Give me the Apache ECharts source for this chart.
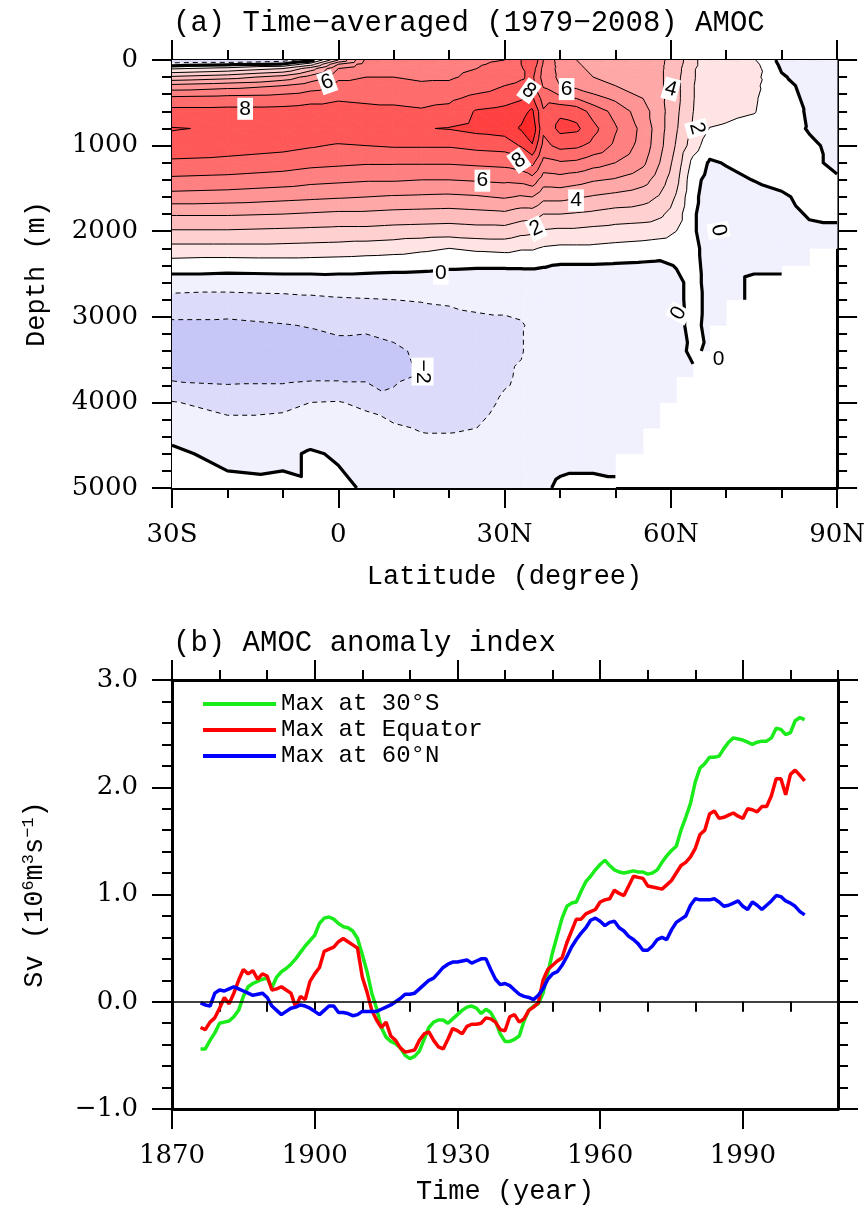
<!DOCTYPE html>
<html>
<head>
<meta charset="utf-8">
<script src="https://cdn.jsdelivr.net/npm/echarts@6.0.0/dist/echarts.min.js"></script>
<style>
  html, body { margin: 0; padding: 0; background: #fff; }
  #chart { width: 868px; height: 1215px; }
</style>
</head>
<body>
<div id="chart"></div>
<script>
// ---- panel (a): time-mean AMOC streamfunction (Sv) ----
const LAT = [-30, -20, -10, -5, 0, 5, 10, 15, 20, 25, 30, 33, 35, 37, 40, 43, 46, 50, 55, 58, 61, 64, 67, 70, 75, 80, 85, 90];
const DEPTH = [0, 50, 100, 200, 300, 450, 600, 800, 1000, 1200, 1400, 1600, 1800, 2000, 2200, 2400, 2600, 2800, 3100, 3400, 3700, 4000, 4300, 4600, 5000];
// one row per latitude, values at the DEPTH levels (null = sea floor)
const AMOC = [
  [-2, -0.5, 0.9, 3.2, 5.3, 7.3, 8.3, 9.05, 8.7, 7.8, 6.8, 5.6, 4.1, 2.9, 1.7, 0.5, -0.5, -1.3, -2.2, -2.6, -2.2, -0.95, -0.4, 0.2, 0.3],
  [-2, -0.2, 1.3, 3.6, 5.6, 7.4, 8.3, 8.9, 8.5, 7.7, 6.7, 5.5, 4.1, 2.9, 1.7, 0.4, -0.5, -1.4, -2.2, -2.6, -2.3, -1.3, -0.7, -0.3, 0.3],
  [-1.5, 0.1, 2.0, 4.4, 6.0, 7.5, 8.3, 8.9, 8.3, 7.5, 6.5, 5.3, 4.0, 2.8, 1.7, 0.45, -0.45, -1.3, -2.05, -2.5, -2.3, -1.2, -0.7, -0.2, 0.2],
  [-0.5, 1.5, 3.5, 5.4, 6.5, 7.7, 8.4, 8.9, 8.1, 7.3, 6.3, 5.2, 3.9, 2.75, 1.65, 0.45, -0.45, -1.2, -1.95, -2.4, -2.2, -1.0, -0.5, 0.1, 0.1],
  [3, 5, 6, 6.8, 7.3, 7.9, 8.4, 8.8, 7.9, 7.2, 6.2, 5.1, 3.8, 2.7, 1.6, 0.4, -0.4, -1.1, -1.8, -2.3, -2.2, -0.95, -0.5, -0.1, 0.2],
  [6.2, 6.5, 6.7, 7.0, 7.3, 7.8, 8.3, 8.8, 8.0, 7.1, 6.1, 5.0, 3.8, 2.7, 1.5, 0.35, -0.4, -1.05, -1.85, -2.3, -2.2, -1.2, -0.6, -0.3, -0.1],
  [6.6, 6.7, 6.8, 7.0, 7.2, 7.8, 8.2, 8.9, 8.1, 7.1, 6.1, 4.9, 3.7, 2.6, 1.4, 0.3, -0.45, -1.0, -1.7, -2.15, -2.1, -1.85, -0.8, -0.4, -0.2],
  [6.7, 6.8, 6.8, 6.9, 7.1, 7.7, 8.1, 8.95, 8.1, 7.1, 6.0, 4.85, 3.65, 2.55, 1.2, 0.25, -0.45, -0.95, -1.45, -1.85, -1.95, -1.6, -1.1, -0.5, -0.2],
  [6.6, 6.7, 6.8, 6.9, 7.15, 7.8, 8.3, 9.05, 8.1, 7.1, 6.0, 4.8, 3.6, 2.5, 1.0, 0.15, -0.5, -0.9, -1.3, -1.6, -1.65, -1.5, -1.1, -0.6, -0.2],
  [6.8, 6.9, 7.0, 7.2, 7.5, 8.3, 9.1, 9.3, 8.3, 7.2, 6.1, 4.9, 3.7, 2.6, 1.2, 0.1, -0.5, -0.85, -1.15, -1.35, -1.4, -1.25, -1.0, -0.55, -0.2],
  [7.0, 7.2, 7.4, 7.6, 8.0, 8.6, 9.3, 9.5, 8.4, 7.3, 6.2, 5.1, 3.8, 2.6, 1.3, 0.1, -0.5, -0.85, -1.1, -1.15, -1.1, -0.9, -0.7, -0.5, -0.2],
  [8.0, 8.0, 7.9, 7.9, 8.2, 8.9, 9.6, 10.1, 9.1, 7.6, 6.3, 4.9, 3.5, 2.3, 1.1, 0.1, -0.45, -0.8, -1.05, -1.05, -0.9, -0.8, -0.6, -0.4, -0.2],
  [9.0, 8.8, 8.5, 8.2, 8.3, 9.2, 10.2, 10.8, 9.9, 8.3, 6.6, 5.0, 3.5, 2.2, 1.1, 0.1, -0.4, -0.6, -0.9, -0.8, -0.7, -0.6, -0.5, -0.3, -0.1],
  [7.0, 6.9, 6.7, 6.6, 6.9, 7.6, 8.1, 8.2, 7.7, 6.7, 5.5, 4.3, 3.0, 1.9, 0.9, 0.05, -0.4, -0.5, -0.6, -0.6, -0.5, -0.5, -0.4, -0.3, -0.1],
  [5.5, 5.6, 5.7, 5.8, 6.0, 7.3, 8.8, 9.3, 8.3, 6.9, 5.6, 4.3, 3.0, 1.8, 0.8, -0.05, -0.4, -0.5, -0.55, -0.55, -0.5, -0.45, -0.4, -0.2, 0.1],
  [5.0, 5.1, 5.2, 5.4, 5.7, 7.0, 8.6, 9.2, 8.2, 6.8, 5.4, 4.1, 2.9, 1.8, 0.8, -0.05, -0.4, -0.5, -0.5, -0.5, -0.5, -0.45, -0.4, -0.2, 0.15],
  [4.6, 4.7, 4.8, 5.0, 5.3, 6.4, 7.6, 8.3, 7.7, 6.4, 5.1, 3.9, 2.8, 1.7, 0.8, -0.05, -0.35, -0.45, -0.5, -0.5, -0.45, -0.4, -0.35, -0.2, 0.15],
  [4.3, 4.4, 4.5, 4.7, 5.0, 5.8, 6.7, 7.1, 6.8, 6.0, 4.9, 3.7, 2.6, 1.6, 0.7, -0.1, -0.35, -0.4, -0.45, -0.45, -0.4, -0.35, -0.3, -0.2, 0.1],
  [4.1, 4.1, 4.2, 4.3, 4.5, 5.0, 5.4, 5.7, 5.6, 5.2, 4.4, 3.4, 2.5, 1.5, 0.6, -0.15, -0.3, -0.35, -0.35, -0.35, -0.35, -0.3, -0.2, -0.1, null],
  [4.2, 4.2, 4.2, 4.2, 4.2, 4.3, 4.4, 4.4, 4.3, 4.0, 3.5, 2.9, 2.2, 1.4, 0.5, -0.2, -0.3, -0.3, -0.3, -0.3, -0.25, -0.2, -0.15, null, null],
  [3.6, 3.5, 3.4, 3.3, 3.3, 3.3, 3.2, 3.1, 2.9, 2.6, 2.3, 1.9, 1.5, 1.0, 0.4, 0.05, -0.2, -0.2, -0.2, -0.15, -0.2, -0.2, null, null, null],
  [2.2, 2.2, 2.1, 2.1, 2.05, 2.05, 2.02, 1.9, 1.5, 0.7, 0.3, 0.2, 0.1, 0.1, 0.2, 0.25, 0.25, 0.25, 0.2, 0.1, -0.1, null, null, null, null],
  [1.5, 1.5, 1.5, 1.4, 1.4, 1.4, 1.3, 0.98, 0.4, -0.1, -0.3, -0.4, -0.4, -0.4, -0.3, -0.3, -0.25, -0.2, -0.2, -0.1, null, null, null, null, null],
  [1.3, 1.4, 1.4, 1.4, 1.3, 1.3, 1.2, 0.9, 0.4, 0.05, -0.2, -0.4, -0.5, -0.5, -0.4, -0.2, -0.2, -0.2, -0.1, null, null, null, null, null, null],
  [1.1, 1.3, 1.4, 1.3, 1.2, 1.1, 1.05, 0.7, 0.4, 0.2, 0.02, -0.3, -0.4, -0.4, -0.3, -0.1, 0.1, 0.1, null, null, null, null, null, null, null],
  [-0.3, -0.2, -0.1, 0.1, 0.3, 0.4, 0.4, 0.3, 0.3, 0.2, 0.1, -0.05, -0.2, -0.3, -0.3, -0.1, 0.1, null, null, null, null, null, null, null, null],
  [-0.5, -0.5, -0.4, -0.4, -0.3, -0.2, -0.1, -0.05, 0.1, 0.1, 0.1, 0.1, 0.05, -0.1, -0.2, -0.1, null, null, null, null, null, null, null, null, null],
  [-0.5, -0.5, -0.5, -0.4, -0.4, -0.3, -0.25, -0.2, -0.15, -0.1, 0.05, 0.1, 0.05, -0.05, -0.1, null, null, null, null, null, null, null, null, null, null]
];
const LEVELS = [-3, -2, -1, 0, 1, 2, 3, 4, 5, 6, 7, 8, 9, 10];
// fill colour of each band: below -3, [-3,-2), ..., [9,10), 10 and above
const BAND_COLORS = ['#b4b4f2', '#c6c6f7', '#dcdcfa', '#f1f1fe', '#ffffff', '#ffe4e4', '#ffd0d0', '#ffbcbc',
  '#ffa8a8', '#ff9494', '#ff8080', '#ff6c6c', '#ff5858', '#ff4040', '#ff2828'];
// contour labels: [lat, depth, text, angle]
const CONTOUR_LABELS = [
  [-16.8, 570, '8', 0], [-2, 260, '6', 20], [34.4, 360, '8', -35], [41.2, 340, '6', 0],
  [60, 340, '4', -15], [32.6, 1175, '8', 35], [26, 1410, '6', 0], [42.9, 1640, '4', 0],
  [35.7, 1970, '2', 25], [64.7, 800, '2', -75], [18.5, 2495, '0', 0], [68.6, 1990, '0', -80],
  [61.4, 2960, '0', 60], [68.6, 3500, '0', 0], [15.2, 3640, '\u22122', -90]
];

// ---- panel (b): AMOC anomaly indices (Sv), one value per year from 1876 ----
const YEAR0 = 1876;
const MAX_30S = [-0.44, -0.44, -0.36, -0.29, -0.20, -0.19, -0.18, -0.14, -0.08, 0.05,
  0.14, 0.17, 0.19, 0.21, 0.22, 0.13, 0.23, 0.28, 0.31, 0.35,
  0.40, 0.46, 0.52, 0.57, 0.62, 0.73, 0.78, 0.79, 0.77, 0.73,
  0.70, 0.69, 0.66, 0.59, 0.44, 0.28, 0.08, -0.06, -0.24, -0.33,
  -0.37, -0.39, -0.43, -0.50, -0.53, -0.51, -0.46, -0.35, -0.24, -0.19,
  -0.17, -0.17, -0.20, -0.16, -0.12, -0.08, -0.05, -0.04, -0.06, -0.11,
  -0.07, -0.10, -0.18, -0.30, -0.37, -0.37, -0.35, -0.32, -0.18, -0.08,
  -0.04, -0.02, 0.08, 0.27, 0.46, 0.62, 0.78, 0.89, 0.92, 0.93,
  1.03, 1.12, 1.17, 1.23, 1.28, 1.32, 1.27, 1.23, 1.21, 1.20,
  1.21, 1.22, 1.21, 1.21, 1.19, 1.20, 1.23, 1.30, 1.36, 1.41,
  1.45, 1.60, 1.72, 1.85, 2.05, 2.18, 2.22, 2.28, 2.28, 2.29,
  2.36, 2.42, 2.46, 2.45, 2.44, 2.42, 2.40, 2.42, 2.43, 2.43,
  2.46, 2.55, 2.54, 2.49, 2.51, 2.62, 2.65, 2.63];
const MAX_EQ = [-0.24, -0.26, -0.19, -0.15, -0.06, 0.04, -0.02, 0.08, 0.20, 0.30,
  0.26, 0.29, 0.21, 0.26, 0.24, 0.11, 0.12, 0.14, 0.11, 0.08,
  -0.05, 0.05, 0.02, 0.19, 0.26, 0.32, 0.47, 0.49, 0.51, 0.56,
  0.59, 0.56, 0.53, 0.50, 0.23, 0.09, -0.08, -0.17, -0.24, -0.19,
  -0.32, -0.36, -0.43, -0.47, -0.46, -0.45, -0.36, -0.30, -0.28, -0.36,
  -0.42, -0.44, -0.35, -0.25, -0.27, -0.30, -0.23, -0.21, -0.21, -0.20,
  -0.15, -0.16, -0.19, -0.26, -0.27, -0.14, -0.12, -0.19, -0.16, -0.08,
  -0.05, -0.01, 0.20, 0.30, 0.34, 0.38, 0.41, 0.55, 0.66, 0.77,
  0.77, 0.82, 0.84, 0.86, 0.93, 0.95, 0.96, 1.04, 1.01, 0.99,
  1.08, 1.17, 1.16, 1.15, 1.08, 1.07, 1.06, 1.05, 1.09, 1.13,
  1.20, 1.27, 1.30, 1.35, 1.43, 1.56, 1.60, 1.75, 1.78, 1.71,
  1.72, 1.74, 1.76, 1.73, 1.71, 1.80, 1.79, 1.77, 1.82, 1.82,
  1.92, 2.08, 2.08, 1.93, 2.12, 2.16, 2.11, 2.06];
const MAX_60N = [-0.01, -0.03, -0.04, 0.08, 0.11, 0.10, 0.12, 0.14, 0.12, 0.10,
  0.08, 0.06, 0.07, 0.08, 0.04, -0.04, -0.08, -0.12, -0.09, -0.06,
  -0.05, -0.03, -0.04, -0.06, -0.09, -0.12, -0.08, -0.04, -0.04, -0.10,
  -0.10, -0.11, -0.13, -0.12, -0.09, -0.09, -0.09, -0.09, -0.07, -0.05,
  -0.03, 0.00, 0.03, 0.07, 0.07, 0.08, 0.12, 0.16, 0.20, 0.22,
  0.27, 0.32, 0.35, 0.37, 0.37, 0.38, 0.39, 0.36, 0.38, 0.40,
  0.40, 0.30, 0.21, 0.16, 0.17, 0.15, 0.11, 0.07, 0.05, 0.04,
  0.02, 0.06, 0.12, 0.21, 0.26, 0.28, 0.34, 0.42, 0.51, 0.58,
  0.64, 0.69, 0.76, 0.78, 0.75, 0.71, 0.74, 0.75, 0.69, 0.66,
  0.61, 0.58, 0.54, 0.48, 0.48, 0.52, 0.58, 0.60, 0.58, 0.67,
  0.74, 0.77, 0.80, 0.90, 0.96, 0.95, 0.95, 0.95, 0.96, 0.93,
  0.89, 0.90, 0.92, 0.94, 0.89, 0.86, 0.93, 0.90, 0.86, 0.90,
  0.94, 0.99, 0.98, 0.94, 0.92, 0.89, 0.84, 0.81];
const YEAR_TICKS = [1870, 1900, 1930, 1960, 1990];

// ---- contouring of the AMOC grid (triangulated cells) ----
const nLat = LAT.length;
function vert(i, j) {
  const v = AMOC[j][i];
  return v == null ? null : [LAT[j], DEPTH[i], v, i * nLat + j];
}
const tris = [];
for (let i = 0; i < DEPTH.length - 1; i++) {
  for (let j = 0; j < nLat - 1; j++) {
    const a = vert(i, j), b = vert(i, j + 1), c = vert(i + 1, j + 1), d = vert(i + 1, j);
    if (a && b && c) tris.push([a, b, c]);
    if (a && c && d) tris.push([a, c, d]);
  }
}

function clip(poly, t, above) {
  const out = [];
  for (let k = 0; k < poly.length; k++) {
    const p = poly[k], q = poly[(k + 1) % poly.length];
    const pin = above ? p[2] >= t : p[2] <= t;
    const qin = above ? q[2] >= t : q[2] <= t;
    if (pin) out.push(p);
    if (pin !== qin) {
      const f = (t - p[2]) / (q[2] - p[2]);
      out.push([p[0] + f * (q[0] - p[0]), p[1] + f * (q[1] - p[1]), t]);
    }
  }
  return out;
}

const bounds = [-Infinity].concat(LEVELS, [Infinity]);
const bands = [];
tris.forEach(tri => {
  const vs = tri.map(p => p[2]);
  const lo = Math.min.apply(null, vs), hi = Math.max.apply(null, vs);
  for (let k = 0; k < bounds.length - 1; k++) {
    if (bounds[k + 1] <= lo || bounds[k] > hi) continue;
    let poly = tri;
    if (bounds[k] > lo) poly = clip(poly, bounds[k], true);
    if (bounds[k + 1] < hi) poly = clip(poly, bounds[k + 1], false);
    if (poly.length >= 3) bands.push({ k: k, pts: poly });
  }
});

function contourLines(L) {
  const segs = [];
  tris.forEach(tri => {
    const pts = [];
    for (let e = 0; e < 3; e++) {
      let p = tri[e], q = tri[(e + 1) % 3];
      if ((p[2] >= L) !== (q[2] >= L)) {
        if (p[3] > q[3]) { const tmp = p; p = q; q = tmp; }
        const f = (L - p[2]) / (q[2] - p[2]);
        pts.push({ key: p[3] + '_' + q[3], x: p[0] + f * (q[0] - p[0]), y: p[1] + f * (q[1] - p[1]) });
      }
    }
    if (pts.length === 2) segs.push(pts);
  });
  const byKey = {};
  segs.forEach((s, n) => s.forEach(p => { (byKey[p.key] = byKey[p.key] || []).push(n); }));
  const used = segs.map(() => false);
  const lines = [];
  for (let n = 0; n < segs.length; n++) {
    if (used[n]) continue;
    used[n] = true;
    const line = [segs[n][0], segs[n][1]];
    [1, -1].forEach(dir => {
      for (;;) {
        const end = dir === 1 ? line[line.length - 1] : line[0];
        const next = (byKey[end.key] || []).find(m => !used[m]);
        if (next === undefined) break;
        used[next] = true;
        const s = segs[next];
        const other = s[0].key === end.key ? s[1] : s[0];
        if (dir === 1) line.push(other); else line.unshift(other);
      }
    });
    lines.push(line);
  }
  return lines;
}
const contours = LEVELS.map(L => ({ level: L, lines: contourLines(L) }));

// ---- chart ----
const chart = echarts.init(document.getElementById('chart'), null, { renderer: 'canvas' });

const AXIS_LINE = { show: true, onZero: false, lineStyle: { color: '#000', width: 3 } };
const TICK_FONT = { fontFamily: 'DejaVu Serif', fontSize: 26, color: '#000' };
const NAME_FONT = { fontFamily: 'Liberation Mono', fontSize: 27, color: '#000' };
const MONO = 'Liberation Mono';

function valueAxis(extra) {
  return Object.assign({
    type: 'value',
    axisLine: AXIS_LINE,
    axisTick: { show: true, length: 20, lineStyle: { color: '#000', width: 2 } },
    minorTick: { show: false },
    splitLine: { show: false },
    minorSplitLine: { show: false },
    axisLabel: { show: false }
  }, extra);
}
function minor(n) {
  return { show: true, splitNumber: n, length: 10, lineStyle: { color: '#000', width: 2 } };
}
function latLabel(v) {
  return v < 0 ? (-v) + 'S' : v === 0 ? '0' : v + 'N';
}
function depthLabel(v) {
  return String(v);
}
function svLabel(v) {
  return (v < 0 ? '\u2212' : '') + Math.abs(v).toFixed(1);
}
function yearLabel(v) {
  return YEAR_TICKS.indexOf(v) >= 0 ? String(v) : '';
}

const latAxis = { min: -30, max: 90, interval: 30, minorTick: minor(3) };
const depthAxis = { min: 0, max: 5000, interval: 1000, inverse: true, minorTick: minor(5) };
const yearAxis = { min: 1870, max: 2010, interval: 30,
  axisTick: { show: true, length: 20, customValues: YEAR_TICKS, lineStyle: { color: '#000', width: 2 } } };
const svAxis = { min: -1, max: 3, interval: 1, minorTick: minor(5) };

const option = {
  animation: false,
  backgroundColor: '#fff',
  title: [
    { text: '(a) Time\u2212averaged (1979\u22122008) AMOC', left: 168, top: 4,
      textStyle: { fontFamily: MONO, fontSize: 29, fontWeight: 'normal', color: '#000' } },
    { text: '(b) AMOC anomaly index', left: 168, top: 624,
      textStyle: { fontFamily: MONO, fontSize: 29, fontWeight: 'normal', color: '#000' } }
  ],
  legend: {
    orient: 'vertical', left: 198, top: 687, itemWidth: 73, itemHeight: 4, itemGap: 2,
    icon: 'rect', selectedMode: false,
    textStyle: { fontFamily: MONO, fontSize: 24, color: '#000', lineHeight: 24 },
    data: ['Max at 30\u00b0S', 'Max at Equator', 'Max at 60\u00b0N']
  },
  grid: [
    { left: 172, top: 60, width: 666, height: 428 },
    { left: 172, top: 680, width: 666, height: 429 },
    { left: 172, top: 680, width: 666, height: 429 }
  ],
  xAxis: [
    valueAxis(Object.assign({}, latAxis, { gridIndex: 0, position: 'bottom',
      axisLabel: Object.assign({ show: true, margin: 34, formatter: latLabel }, TICK_FONT),
      name: 'Latitude (degree)', nameLocation: 'middle', nameGap: 75, nameTextStyle: NAME_FONT })),
    valueAxis(Object.assign({}, latAxis, { gridIndex: 0, position: 'top' })),
    valueAxis(Object.assign({}, yearAxis, { gridIndex: 1, position: 'bottom',
      axisLabel: Object.assign({ show: true, margin: 34, formatter: yearLabel, customValues: YEAR_TICKS }, TICK_FONT),
      name: 'Time (year)', nameLocation: 'middle', nameGap: 69, nameTextStyle: NAME_FONT })),
    valueAxis(Object.assign({}, yearAxis, { gridIndex: 1, position: 'top' })),
    valueAxis({ gridIndex: 2, position: 'bottom', min: 1870, max: 2010, interval: 10, axisLine: { show: false },
      axisTick: { show: true, length: 10, lineStyle: { color: '#000', width: 2 } } }),
    valueAxis({ gridIndex: 2, position: 'top', min: 1870, max: 2010, interval: 10, axisLine: { show: false },
      axisTick: { show: true, length: 10, lineStyle: { color: '#000', width: 2 } } })
  ],
  yAxis: [
    valueAxis(Object.assign({}, depthAxis, { gridIndex: 0, position: 'left',
      axisLabel: Object.assign({ show: true, margin: 34, formatter: depthLabel }, TICK_FONT),
      name: 'Depth (m)', nameLocation: 'middle', nameGap: 122, nameRotate: 90, nameTextStyle: NAME_FONT })),
    valueAxis(Object.assign({}, depthAxis, { gridIndex: 0, position: 'right' })),
    valueAxis(Object.assign({}, svAxis, { gridIndex: 1, position: 'left',
      axisLabel: Object.assign({ show: true, margin: 34, formatter: svLabel }, TICK_FONT),
      name: 'Sv (10{s|6}m{s|3}s{s|\u22121})', nameLocation: 'middle', nameGap: 122, nameRotate: 90,
      nameTextStyle: Object.assign({ rich: { s: { fontFamily: MONO, fontSize: 17, verticalAlign: 'top', lineHeight: 30 } } }, NAME_FONT) })),
    valueAxis(Object.assign({}, svAxis, { gridIndex: 1, position: 'right' })),
    { type: 'value', gridIndex: 2, show: false, min: -1, max: 3 }
  ],
  series: [
    {
      type: 'custom', name: 'amoc', xAxisIndex: 0, yAxisIndex: 0, clip: true, silent: true, z: 1,
      data: [[LAT[0], DEPTH[0]]],
      renderItem: function (params, api) {
        const children = [];
        bands.forEach(b => {
          const c = BAND_COLORS[b.k];
          children.push({ type: 'polygon', shape: { points: b.pts.map(p => api.coord([p[0], p[1]])) },
            style: { fill: c, stroke: c, lineWidth: 0.7 } });
        });
        contours.forEach(ct => {
          ct.lines.forEach(line => {
            children.push({ type: 'polyline', shape: { points: line.map(p => api.coord([p.x, p.y])) },
              style: { fill: null, stroke: '#000', lineWidth: ct.level === 0 ? 3.2 : 1,
                lineDash: ct.level < 0 ? [5, 4] : null, lineJoin: 'round' } });
          });
        });
        return { type: 'group', children: children };
      }
    },
    {
      type: 'custom', name: 'labels', xAxisIndex: 0, yAxisIndex: 0, clip: true, silent: true, z: 3,
      data: CONTOUR_LABELS.map(d => [d[0], d[1]]),
      renderItem: function (params, api) {
        const d = CONTOUR_LABELS[params.dataIndex];
        const pt = api.coord([d[0], d[1]]);
        return { type: 'text', x: pt[0], y: pt[1], rotation: d[3] * Math.PI / 180,
          style: { text: d[2], fontFamily: 'Liberation Sans', fontSize: 21, fill: '#000',
            align: 'center', verticalAlign: 'middle', backgroundColor: '#fff', padding: [1, 2, 0, 2] } };
      }
    },
    {
      type: 'line', name: 'zero', xAxisIndex: 2, yAxisIndex: 2, data: [], silent: true,
      markLine: { symbol: 'none', silent: true, label: { show: false },
        lineStyle: { color: '#000', width: 1.5, type: 'solid' }, data: [{ yAxis: 0 }] }
    },
    {
      type: 'line', name: 'Max at 30\u00b0S', xAxisIndex: 2, yAxisIndex: 2, showSymbol: false,
      data: MAX_30S.map((v, i) => [YEAR0 + i, v]),
      lineStyle: { color: '#1aeb1a', width: 3.5 }, itemStyle: { color: '#1aeb1a' }
    },
    {
      type: 'line', name: 'Max at Equator', xAxisIndex: 2, yAxisIndex: 2, showSymbol: false,
      data: MAX_EQ.map((v, i) => [YEAR0 + i, v]),
      lineStyle: { color: '#ff0000', width: 3.5 }, itemStyle: { color: '#ff0000' }
    },
    {
      type: 'line', name: 'Max at 60\u00b0N', xAxisIndex: 2, yAxisIndex: 2, showSymbol: false,
      data: MAX_60N.map((v, i) => [YEAR0 + i, v]),
      lineStyle: { color: '#0000ff', width: 3.5 }, itemStyle: { color: '#0000ff' }
    }
  ]
};
chart.setOption(option);
</script>
</body>
</html>
